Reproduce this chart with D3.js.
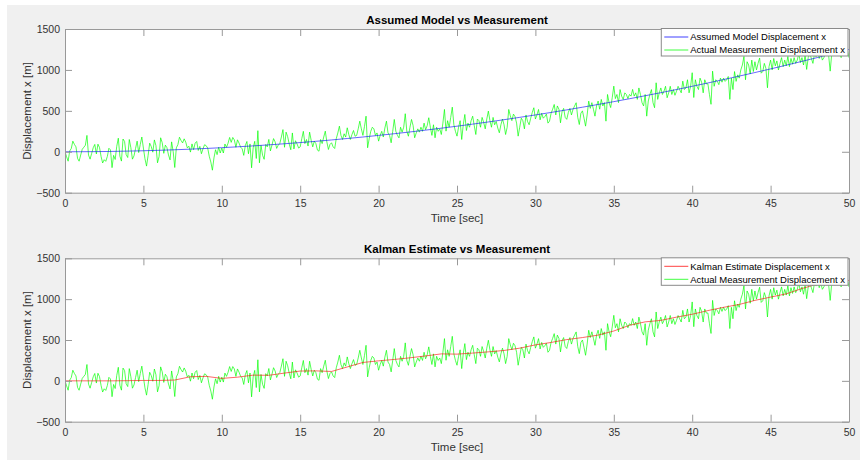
<!DOCTYPE html>
<html>
<head>
<meta charset="utf-8">
<script src="https://cdn.jsdelivr.net/npm/d3@7/dist/d3.min.js"></script>
<style>
  body { margin: 0; background: #ffffff; }
  svg { display: block; font-family: "Liberation Sans", Arial, sans-serif; }
</style>
</head>
<body>
<div id="chart"></div>
<script>
// sample step of the measurement series [sec]
var dt = 0.1;

// measured displacement x [m], one value every 0.1 s from 0 to 50 s
var measurement = [
  0,-60,-115,10,40,130,90,60,-80,-115,
  -40,30,55,80,200,-40,-90,-20,50,90,
  -27,93,53,-57,-137,-97,-117,-57,43,23,
  -194,-44,-94,66,166,-54,-114,156,126,-34,
  -70,150,50,-90,-50,40,130,-10,90,180,
  45,-85,-175,-45,105,65,-5,145,75,-135,
  -59,171,111,-19,81,51,-39,-99,121,1,
  -192,48,88,178,138,108,158,118,48,68,
  -4,96,26,106,126,16,66,-24,36,86,
  75,45,-55,-125,-225,-75,25,-35,55,-15,
  45,-15,95,55,105,175,115,175,145,55,
  146,106,56,36,-44,76,126,-24,96,-196,
  48,128,-82,258,-135,78,-42,-92,88,60,
  151,11,81,161,121,41,81,101,181,271,
  55,240,185,95,25,230,35,135,95,45,
  60,160,250,100,150,70,240,140,60,130,
  100,20,7,150,100,180,252,120,28,90,
  110,60,40,160,230,313,200,150,220,180,
  293,210,150,210,260,190,200,280,374,280,
  200,310,435,49,160,250,300,280,200,230,
  130,200,250,180,290,374,230,200,110,250,
  395,250,200,170,300,240,300,465,250,190,
  300,395,320,171,230,280,240,300,250,350,
  270,320,416,300,200,330,171,300,250,280,
  211,350,517,252,380,300,420,545,330,250,
  191,300,380,150,330,456,260,350,300,380,
  435,320,211,400,380,300,420,360,280,400,
  497,380,300,420,330,370,290,232,330,400,
  330,211,300,517,440,380,460,430,350,191,
  300,410,380,280,450,370,330,410,480,538,
  400,450,517,390,470,410,430,460,350,374,
  470,520,578,450,560,520,354,490,530,420,
  396,480,530,450,520,560,599,420,333,470,
  500,410,313,450,619,530,600,520,435,560,
  620,520,640,560,600,374,700,600,540,660,
  802,650,700,600,760,680,640,720,700,650,
  700,680,762,680,720,640,780,700,600,560,
  700,435,620,700,760,600,538,843,640,720,
  780,700,740,800,660,720,800,700,760,690,
  740,800,760,720,863,760,780,880,720,800,
  966,663,880,800,760,900,850,720,880,830,
  830,700,580,985,800,880,860,820,900,850,
  900,860,880,920,640,900,760,980,860,940,
  900,1000,1060,1165,880,1100,1060,950,1120,980,
  1100,1000,1080,1146,960,980,1080,1020,782,1040,
  1120,1000,1140,1050,1110,1000,1080,1150,1040,1120,
  1050,1165,1040,1140,1070,1150,1080,1120,1200,1090,
  1150,1060,1180,1006,1150,1200,1140,1080,1200,1160,
  1230,1140,1200,1120,1150,1200,1260,1180,985,1200,
  1260,1180,1240,1300,1200,1150,1260,1280,1190,1240,
  1150
];

// seconds 0..50 for the model and Kalman curves
var seconds = [0,1,2,3,4,5,6,7,8,9,10,11,12,13,14,15,16,17,18,19,20,21,22,23,24,25,
  26,27,28,29,30,31,32,33,34,35,36,37,38,39,40,41,42,43,44,45,46,47,48,49,50];

// assumed model displacement [m]
var model = [0,0.5,2,4.5,8,12.5,18,24.5,32,40.5,50,60.5,72,84.5,98,112.5,128,144.5,162,
  180.5,200,220.5,242,264.5,288,312.5,338,364.5,392,420.5,450,480.5,512,544.5,578,612.5,
  648,684.5,722,760.5,800,840.5,882,924.5,968,1012.5,1058,1104.5,1152,1200.5,1250];

// Kalman estimate displacement [m]
var kalman = [0,0,0,0,2,5,5,10,50,55,30,45,70,68,95,120,122,115,170,225,245,262,282,305,
  330,327,340,355,372,400,440,470,505,530,560,610,680,722,740,780,815,860,900,935,985,
  1025,1065,1130,1185,1210,1230];

var xTicks = [0,5,10,15,20,25,30,35,40,45,50];
var yTicks = [-500,0,500,1000,1500];

var W = 860, H = 460;

var svg = d3.select("#chart").append("svg")
  .attr("width", W)
  .attr("height", H);

// figure background
svg.append("rect")
  .attr("x", 7).attr("y", 5)
  .attr("width", W - 7).attr("height", H - 5)
  .attr("fill", "#f0f0f0");

/** draws one subplot: axes box, ticks, the measurement and one smooth curve plus legend */
function draw_panel(top, bottom, title, curve, curveColor, curveName, clipId) {

  var left = 65, right = 849;

  var x = d3.scaleLinear().domain([0, 50]).range([left, right]);
  var y = d3.scaleLinear().domain([-500, 1500]).range([bottom, top]);

  var g = svg.append("g");

  g.append("rect")
    .attr("x", left).attr("y", top)
    .attr("width", right - left).attr("height", bottom - top)
    .attr("fill", "#ffffff");

  g.append("clipPath").attr("id", clipId)
    .append("rect")
    .attr("x", left).attr("y", top)
    .attr("width", right - left).attr("height", bottom - top);

  var lineM = d3.line()
    .x(function(d, i) { return x(i * dt); })
    .y(function(d) { return y(d); });

  var lineC = d3.line()
    .x(function(d, i) { return x(seconds[i]); })
    .y(function(d) { return y(d); });

  g.append("path")
    .datum(measurement)
    .attr("clip-path", "url(#" + clipId + ")")
    .attr("fill", "none")
    .attr("stroke", "#00ff00")
    .attr("stroke-opacity", 0.85)
    .attr("stroke-width", 0.8)
    .attr("d", lineM);

  g.append("path")
    .datum(curve)
    .attr("clip-path", "url(#" + clipId + ")")
    .attr("fill", "none")
    .attr("stroke", curveColor)
    .attr("stroke-opacity", 0.75)
    .attr("stroke-width", 0.8)
    .attr("d", lineC);

  // axes, MATLAB style ticks pointing inwards on all four sides
  var tick = 7;
  var axisColor = "#999999";
  var textColor = "#333333";
  var fmt = d3.format("d");

  g.append("g")
    .attr("transform", "translate(0," + bottom + ")")
    .call(d3.axisBottom(x).tickValues(xTicks).tickFormat(fmt).tickSizeInner(-tick).tickSizeOuter(0).tickPadding(7))
    .call(function(a) {
      a.select(".domain").attr("stroke", axisColor);
      a.selectAll("line").attr("stroke", axisColor);
      a.selectAll("text").attr("fill", textColor).style("font-size", "10.5px")
        .style("font-family", "Liberation Sans, Arial, sans-serif");
    });

  g.append("g")
    .attr("transform", "translate(0," + top + ")")
    .call(d3.axisTop(x).tickValues(xTicks).tickSizeInner(-tick).tickSizeOuter(0).tickFormat(""))
    .call(function(a) {
      a.select(".domain").attr("stroke", axisColor);
      a.selectAll("line").attr("stroke", axisColor);
    });

  g.append("g")
    .attr("transform", "translate(" + left + ",0)")
    .call(d3.axisLeft(y).tickValues(yTicks).tickFormat(fmt).tickSizeInner(-tick).tickSizeOuter(0).tickPadding(5))
    .call(function(a) {
      a.select(".domain").attr("stroke", axisColor);
      a.selectAll("line").attr("stroke", axisColor);
      a.selectAll("text").attr("fill", textColor).style("font-size", "10.5px")
        .style("font-family", "Liberation Sans, Arial, sans-serif");
    });

  g.append("g")
    .attr("transform", "translate(" + right + ",0)")
    .call(d3.axisRight(y).tickValues(yTicks).tickSizeInner(-tick).tickSizeOuter(0).tickFormat(""))
    .call(function(a) {
      a.select(".domain").attr("stroke", axisColor);
      a.selectAll("line").attr("stroke", axisColor);
    });

  // title and labels
  g.append("text")
    .attr("x", (left + right) / 2).attr("y", top - 5)
    .attr("text-anchor", "middle")
    .style("font-size", "11.5px").style("font-weight", "bold")
    .attr("fill", "#000000")
    .text(title);

  g.append("text")
    .attr("x", (left + right) / 2).attr("y", bottom + 29)
    .attr("text-anchor", "middle")
    .style("font-size", "11.5px")
    .attr("fill", textColor)
    .text("Time [sec]");

  g.append("text")
    .attr("transform", "translate(31," + (top + bottom) / 2 + ") rotate(-90)")
    .attr("text-anchor", "middle")
    .style("font-size", "11.5px")
    .attr("fill", textColor)
    .text("Displacement x [m]");

  // legend in the top right corner
  var entries = [
    {name: curveName, color: curveColor},
    {name: "Actual Measurement Displacement x", color: "#00ff00"}
  ];
  var lg = g.append("g");
  var box = lg.append("rect")
    .attr("fill", "#ffffff")
    .attr("stroke", "#8a8a8a")
    .attr("stroke-width", 1);

  var maxW = 0;
  entries.forEach(function(e, i) {
    var ly = top + 8 + i * 13;
    lg.append("line")
      .attr("x1", 0).attr("x2", 24)
      .attr("y1", ly).attr("y2", ly)
      .attr("stroke", e.color)
      .attr("stroke-opacity", 0.75)
      .attr("stroke-width", 1);
    var t = lg.append("text")
      .attr("x", 26).attr("y", ly)
      .attr("dy", "0.35em")
      .style("font-size", "9.5px")
      .attr("fill", "#000000")
      .text(e.name);
    maxW = Math.max(maxW, t.node().getComputedTextLength());
  });

  var boxW = 29 + maxW + 3;
  var boxLeft = right - 1 - boxW;
  box.attr("x", 0).attr("y", top - 0.5)
    .attr("width", boxW).attr("height", 27.5);
  lg.selectAll("line").attr("transform", "translate(3,0)");
  lg.selectAll("text").attr("transform", "translate(3,0)");
  lg.attr("transform", "translate(" + boxLeft + ",0)");
}

draw_panel(29, 192.7, "Assumed Model vs Measurement", model, "#0000ff",
  "Assumed Model Displacement x", "clipTop");
draw_panel(258.3, 421.7, "Kalman Estimate vs Measurement", kalman, "#ff0000",
  "Kalman Estimate Displacement x", "clipBottom");
</script>
</body>
</html>
